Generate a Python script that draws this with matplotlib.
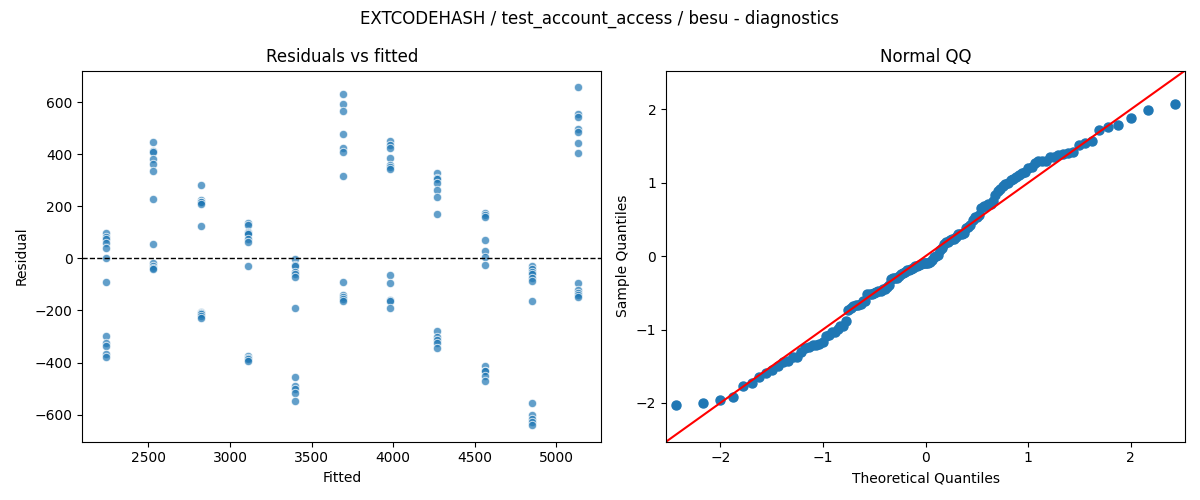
import numpy as np
import matplotlib
matplotlib.use('Agg')
import matplotlib.pyplot as plt
from statistics import NormalDist


titulo = 'EXTCODEHASH / test_account_access / besu - diagnostics'

# valores ajustados (uno por grupo) y residuos
ajustados = [2240, 2530, 2820, 3110, 3400, 3690, 3980, 4270, 4560, 4850, 5130]

residuos = [
    [96, 83, 73, 60, 38, 0, -92, -297, -323, -338, -366, -379],
    [445, 411, 408, 380, 361, 334, 227, 55, -17, -28, -38, -42],
    [283, 223, 218, 215, 210, 124, -204, -208, -210, -214, -222, -230],
    [134, 128, 100, 98, 95, 73, 62, -29, -376, -382, -388, -392],
    [-3, -24, -28, -51, -60, -73, -191, -455, -489, -501, -517, -546],
    [631, 593, 564, 479, 425, 409, 315, -92, -140, -150, -155, -163],
    [449, 437, 425, 384, 360, 351, 342, -65, -93, -158, -162, -191],
    [327, 310, 304, 291, 264, 237, 170, -279, -300, -313, -325, -344],
    [176, 168, 157, 69, 29, 4, -27, -412, -431, -431, -450, -469],
    [-31, -40, -54, -60, -77, -85, -163, -557, -602, -615, -628, -639],
    [656, 555, 541, 495, 486, 441, 403, -96, -121, -131, -140, -147],
]

x = []
y = []
for f, grupo in zip(ajustados, residuos):
    for r in grupo:
        x.append(f)
        y.append(r)
x = np.array(x)
y = np.array(y, dtype=float)

# cuantiles para el grafico QQ
n = len(y)
muestra = np.sort((y - y.mean()) / y.std())
teoricos = np.array([NormalDist().inv_cdf(i / (n + 1)) for i in range(1, n + 1)])

fig, (ax1, ax2) = plt.subplots(1, 2, figsize=(12, 5), dpi=100)

ax1.scatter(x, y, s=36, color='C0', alpha=0.7, edgecolors='w', linewidths=0.75)
ax1.axhline(0, color='k', linestyle='--', linewidth=1)
ax1.set_xlabel('Fitted')
ax1.set_ylabel('Residual')
ax1.set_title('Residuals vs fitted')

lim = 2.53
ax2.plot(teoricos, muestra, 'o', color='C0', markersize=6.5)
ax2.plot([-lim, lim], [-lim, lim], color='r')
ax2.set_xlim(-lim, lim)
ax2.set_ylim(-lim, lim)
ax2.set_xlabel('Theoretical Quantiles')
ax2.set_ylabel('Sample Quantiles')
ax2.set_title('Normal QQ')

fig.suptitle(titulo)
fig.tight_layout()
fig.savefig('out.png')
